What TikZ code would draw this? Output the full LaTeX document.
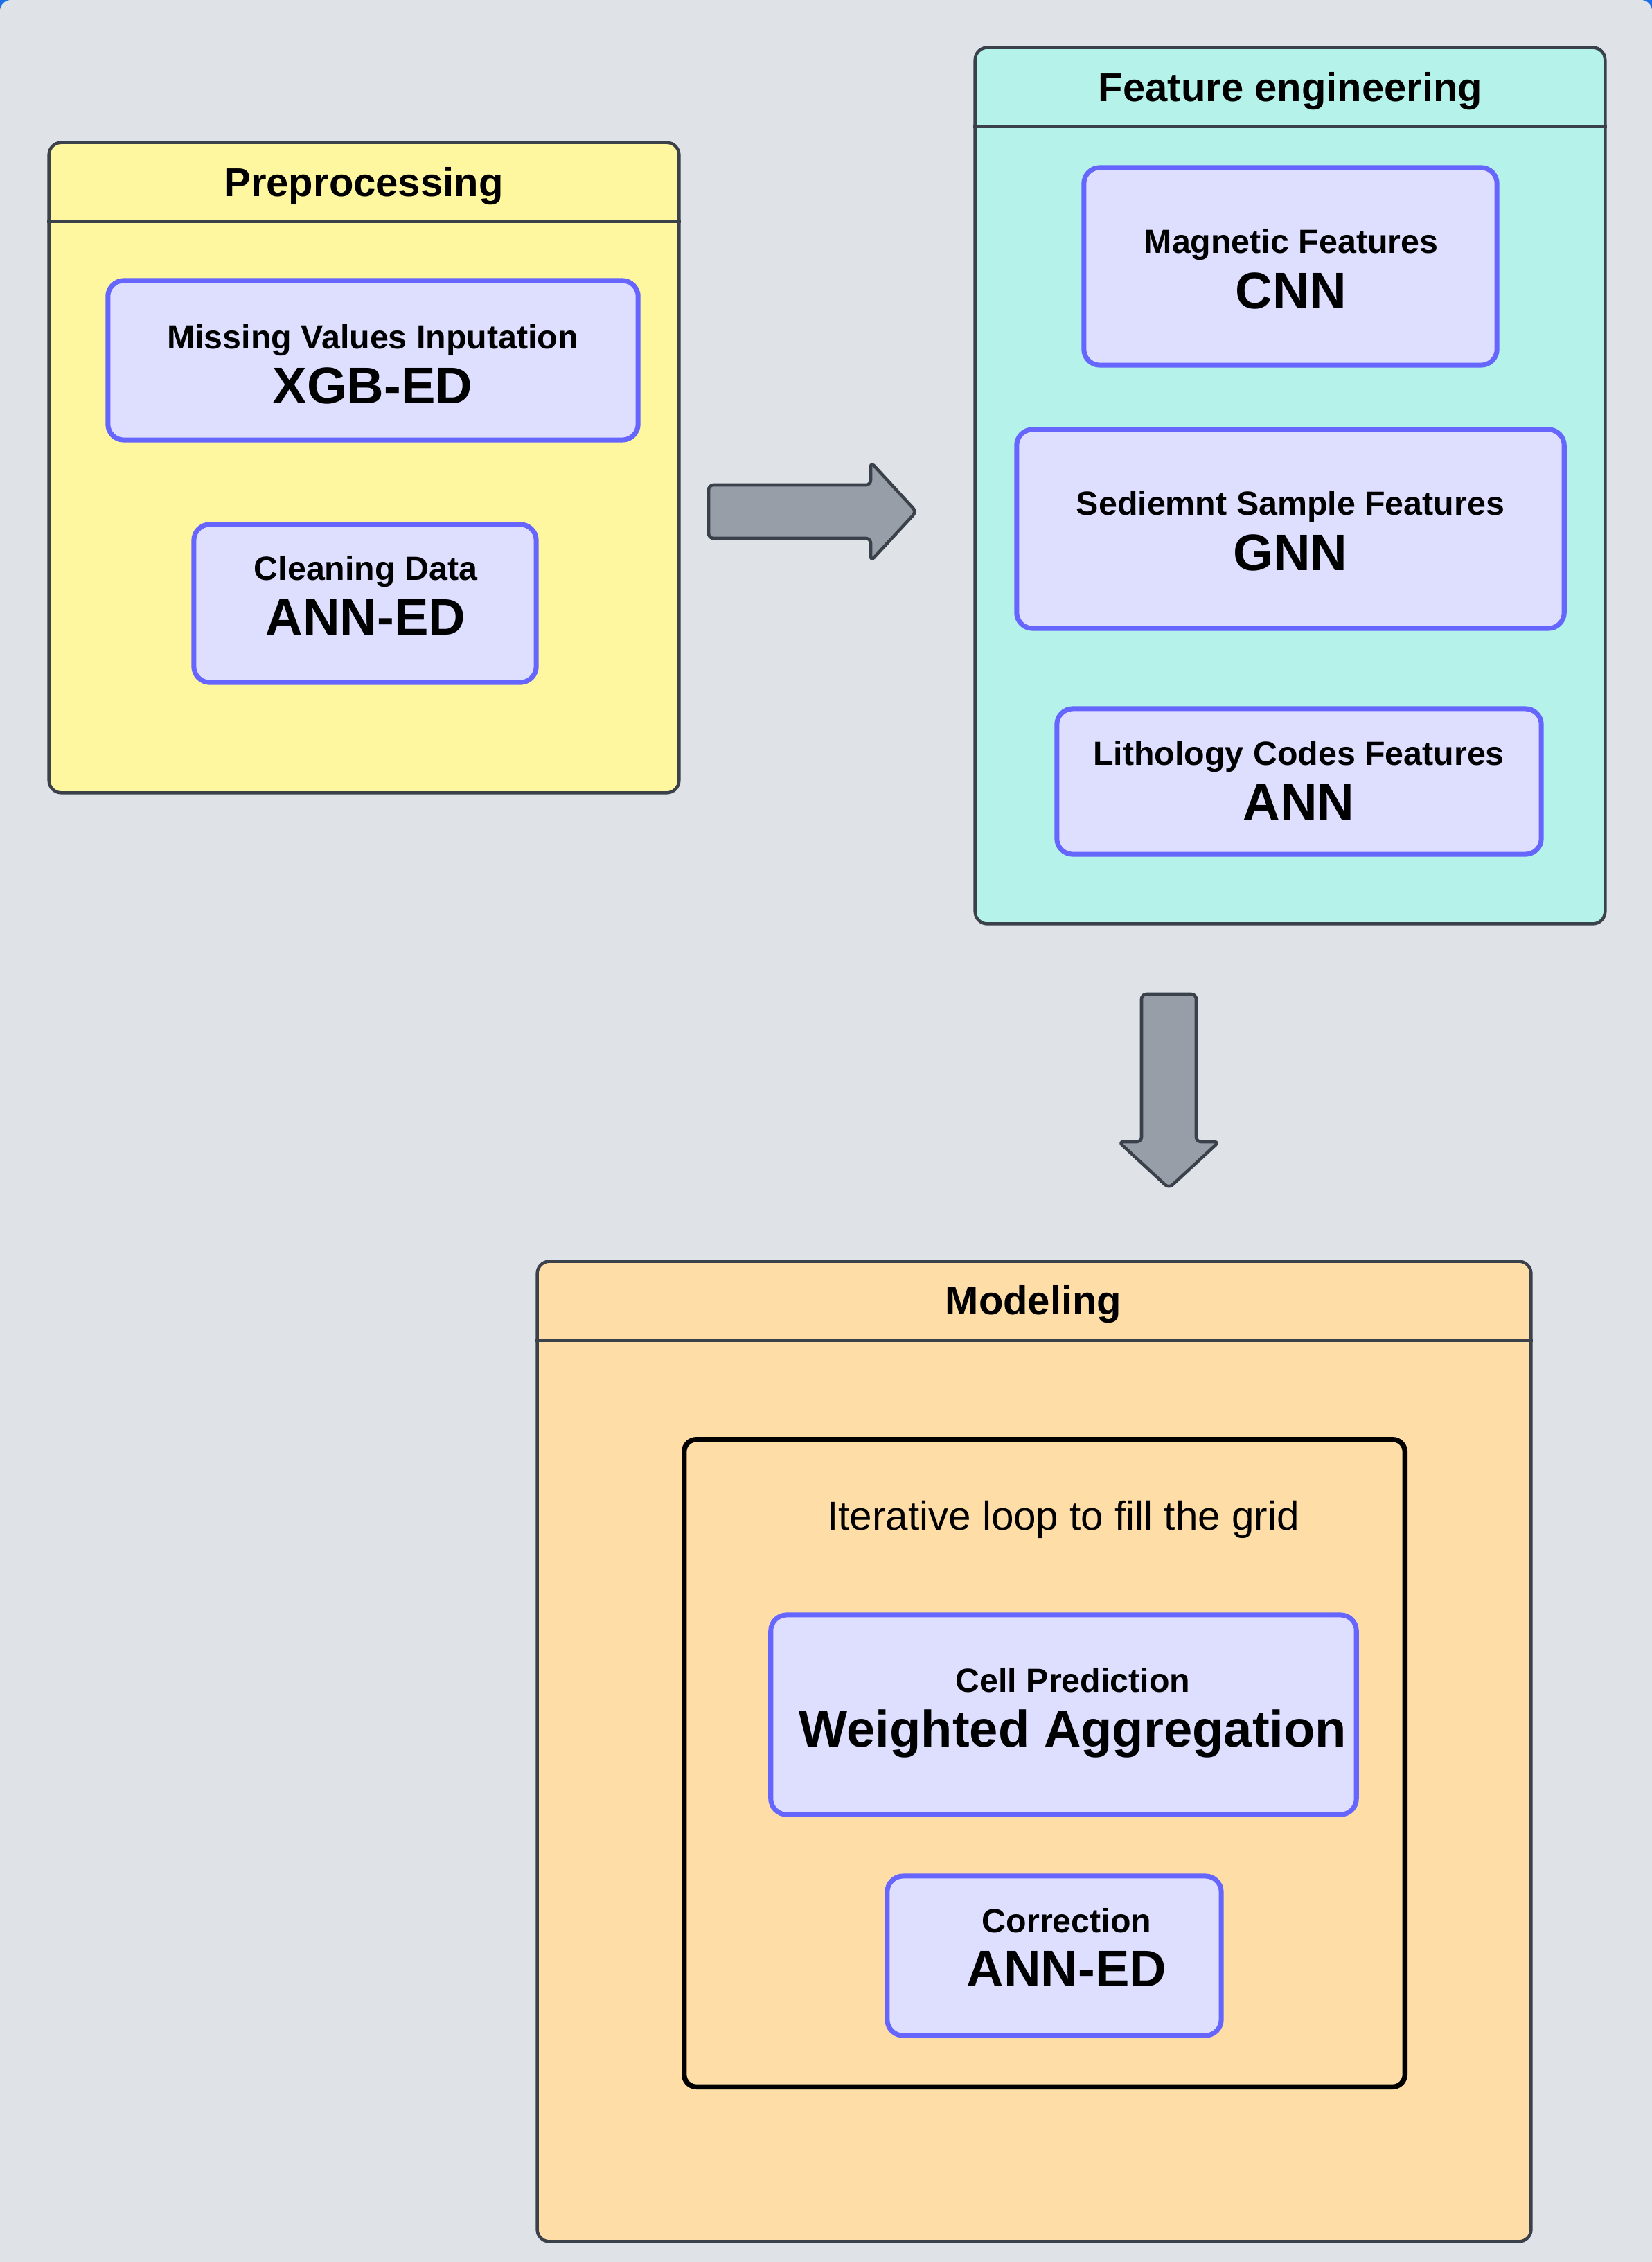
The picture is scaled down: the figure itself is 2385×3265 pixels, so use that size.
\documentclass[tikz,border=0pt]{standalone}
\usepackage{fontspec}
\setmainfont{Liberation Sans}
\usepackage{tikz}
\usepackage{xcolor}

\definecolor{bggray}{HTML}{DFE2E7}
\definecolor{edgeblue}{HTML}{1E6FE6}
\definecolor{frame}{HTML}{3A414A}
\definecolor{preyellow}{HTML}{FFF6A0}
\definecolor{featcyan}{HTML}{B5F3EA}
\definecolor{modelorange}{HTML}{FFDDA6}
\definecolor{boxfill}{HTML}{DEDEFF}
\definecolor{boxline}{HTML}{6666FF}
\definecolor{arrowgray}{HTML}{979EA8}

\tikzset{
  container/.style={rectangle, draw=frame, line width=1.28pt, rounded corners=5pt, inner sep=0pt},
  stepbox/.style={rectangle, draw=boxline, fill=boxfill, line width=2pt, rounded corners=6.5pt, inner sep=0pt},
  loopbox/.style={rectangle, draw=black, line width=2.1pt, rounded corners=5pt, inner sep=0pt},
  grouptitle/.style={anchor=base, inner sep=0pt, font=\fontsize{16.5pt}{19pt}\selectfont\bfseries},
  smalllabel/.style={anchor=base, inner sep=0pt, font=\fontsize{13.75pt}{16pt}\selectfont\bfseries},
  biglabel/.style={anchor=base, inner sep=0pt, font=\fontsize{21.1pt}{24pt}\selectfont\bfseries},
  looplabel/.style={anchor=base, inner sep=0pt, font=\fontsize{16.6pt}{19pt}\selectfont},
  blockarrow/.style={draw=frame, fill=arrowgray, line width=1.3pt, rounded corners=2pt, line join=round}
}

\begin{document}
\begin{tikzpicture}[x=0.01cm, y=-0.01cm]
    \useasboundingbox (0,0) rectangle (2385,3265);

    % background
    \fill[edgeblue] (0,0) rectangle (2385,3265);
    \fill[bggray, rounded corners=4.5pt] (0,0) rectangle (2385,3400);

    \coordinate (PreC) at (525.5, 675);
    \coordinate (PreH) at (0, 320);
    \coordinate (FeatC) at (1862.5, 701);
    \coordinate (FeatH) at (0, 183);
    \coordinate (ModC) at (1493, 2528);
    \coordinate (ModH) at (0, 1935);
    \coordinate (LoopC) at (1508, 2545);

    \coordinate (MissC) at (538.5, 520);
    \coordinate (CleanC) at (527, 871);
    \coordinate (MagnC) at (1863, 384.5);
    \coordinate (SediC) at (1863, 763.5);
    \coordinate (LithoC) at (1875.5, 1128);
    \coordinate (CellC) at (1535.5, 2475);
    \coordinate (CorrC) at (1522, 2823);

    % containers
    \node [container, fill=preyellow, minimum width=9.09cm, minimum height=9.38cm] (pre) at (PreC) {};
    \draw [frame, line width=1.28pt] (pre.west |- PreH) to (pre.east |- PreH);
    \node [grouptitle] (preT) at (525, 283) {Preprocessing};

    \node [container, fill=featcyan, minimum width=9.09cm, minimum height=12.64cm] (feat) at (FeatC) {};
    \draw [frame, line width=1.28pt] (feat.west |- FeatH) to (feat.east |- FeatH);
    \node [grouptitle] (featT) at (1863, 146) {Feature engineering};

    \node [container, fill=modelorange, minimum width=14.34cm, minimum height=14.14cm] (model) at (ModC) {};
    \draw [frame, line width=1.28pt] (model.west |- ModH) to (model.east |- ModH);
    \node [grouptitle] (modelT) at (1492, 1897) {Modeling};

    \node [loopbox, minimum width=10.4cm, minimum height=9.34cm] (loop) at (LoopC) {};
    \node [looplabel] (loopT) at (1535, 2208) {Iterative loop to fill the grid};

    % step boxes
    \node [stepbox, minimum width=7.65cm, minimum height=2.3cm] (miss) at (MissC) {};
    \node [smalllabel] (missT) at (538, 503) {Missing Values Inputation};
    \node [biglabel] (missN) at (538, 582) {XGB-ED};

    \node [stepbox, minimum width=4.94cm, minimum height=2.28cm] (clean) at (CleanC) {};
    \node [smalllabel] (cleanT) at (528, 837) {Cleaning Data};
    \node [biglabel] (cleanN) at (528, 916) {ANN-ED};

    \node [stepbox, minimum width=5.96cm, minimum height=2.85cm] (magn) at (MagnC) {};
    \node [smalllabel] (magnT) at (1864, 365) {Magnetic Features};
    \node [biglabel] (magnN) at (1864, 445) {CNN};

    \node [stepbox, minimum width=7.9cm, minimum height=2.87cm] (sedi) at (SediC) {};
    \node [smalllabel] (sediT) at (1863, 743) {Sediemnt Sample Features};
    \node [biglabel] (sediN) at (1863, 823) {GNN};

    \node [stepbox, minimum width=6.99cm, minimum height=2.1cm] (litho) at (LithoC) {};
    \node [smalllabel] (lithoT) at (1875, 1104) {Lithology Codes Features};
    \node [biglabel] (lithoN) at (1875, 1183) {ANN};

    \node [stepbox, minimum width=8.45cm, minimum height=2.88cm] (cell) at (CellC) {};
    \node [smalllabel] (cellT) at (1549, 2442) {Cell Prediction};
    \node [biglabel] (cellN) at (1549, 2521) {Weighted Aggregation};

    \node [stepbox, minimum width=4.82cm, minimum height=2.3cm] (corr) at (CorrC) {};
    \node [smalllabel] (corrT) at (1540, 2789) {Correction};
    \node [biglabel] (corrN) at (1540, 2867) {ANN-ED};

    % block arrows
    \draw [blockarrow] (1023,700) -- (1257,700) -- (1257,667) -- (1323,738.5)
      -- (1257,810) -- (1257,777) -- (1023,777) -- cycle;
    \draw [blockarrow] (1648,1435) -- (1727,1435) -- (1727,1648) -- (1760,1648)
      -- (1687.5,1715) -- (1615,1648) -- (1648,1648) -- cycle;
\end{tikzpicture}
\end{document}
